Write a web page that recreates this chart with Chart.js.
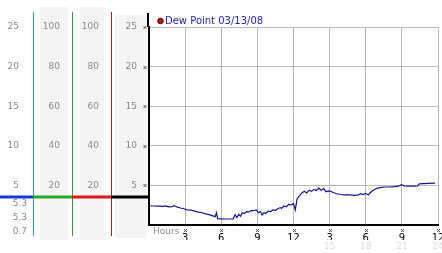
<!DOCTYPE html>
<html>
<head>
<meta charset="utf-8">
<script src="https://cdn.jsdelivr.net/npm/chart.js@4/dist/chart.umd.min.js"></script>
<style>
  html, body { margin: 0; padding: 0; background: #fff; }
  canvas { display: block; }
</style>
</head>
<body>
<canvas id="c" width="442" height="253"></canvas>
<script>
// Dew point for one day (hours since midnight, degrees)
const seriesLabel = 'Dew Point 03/13/08';
const hours = [
  0.0, 0.4, 0.8, 1.1, 1.4, 1.6, 1.9, 2.1, 2.3, 2.6, 2.9, 3.2, 3.5, 3.8, 4.1, 4.4, 4.7, 5.0, 5.3, 5.5,
  5.6, 5.7, 6.0, 6.4, 6.8, 7.0, 7.15, 7.3, 7.45, 7.6, 7.75, 7.9, 8.1, 8.3, 8.5, 8.7, 8.9, 9.1, 9.25, 9.4,
  9.55, 9.7, 9.9, 10.1, 10.3, 10.5, 10.7, 10.9, 11.0, 11.2, 11.4, 11.6, 11.8, 12.0, 12.15, 12.3, 12.5, 12.7, 12.9, 13.1,
  13.3, 13.5, 13.7, 13.9, 14.1, 14.3, 14.5, 14.7, 14.9, 15.1, 15.3, 15.6, 15.9, 16.2, 16.6, 17.0, 17.4, 17.6, 17.8, 18.0,
  18.2, 18.4, 18.6, 18.8, 19.0, 19.3, 19.6, 20.0, 20.4, 20.7, 20.95, 21.2, 21.6, 22.0, 22.3, 22.45, 22.8, 23.2, 23.75
];
const dewPoint = [
  2.40, 2.40, 2.38, 2.36, 2.42, 2.30, 2.32, 2.45, 2.28, 2.15, 2.05, 1.92, 1.88, 1.75, 1.62, 1.55, 1.40, 1.30, 1.15, 1.05,
  1.55, 0.80, 0.78, 0.76, 0.76, 0.78, 1.30, 0.95, 1.35, 1.10, 1.55, 1.45, 1.70, 1.65, 1.85, 1.80, 1.90, 1.55, 1.70, 1.25,
  1.55, 1.45, 1.75, 1.70, 1.90, 1.85, 2.05, 2.20, 2.10, 2.40, 2.30, 2.60, 2.55, 2.70, 1.90, 3.30, 3.70, 4.05, 4.25, 4.05,
  4.40, 4.25, 4.50, 4.35, 4.65, 4.40, 4.60, 4.20, 4.30, 4.25, 4.10, 3.95, 3.85, 3.80, 3.80, 3.75, 3.80, 3.95, 3.85, 4.00,
  3.80, 4.10, 4.35, 4.55, 4.65, 4.75, 4.80, 4.80, 4.85, 4.90, 5.10, 4.95, 4.92, 4.92, 4.95, 5.20, 5.22, 5.25, 5.28
];
// side panel: current / current / low readings
const currentValues = ['5.3', '5.3', '0.7'];

const FONT = 'DejaVu Sans';
const GRID = '#b8b8b8';
const LABEL = '#8a8a8a';

function fixSize(prop, size) {
  return (scale) => {
    scale[prop] = size;
    scale.paddingLeft = 0;
    scale.paddingRight = 0;
    scale.paddingTop = 0;
    scale.paddingBottom = 0;
  };
}

function sideAxis(weight, max, step, width, pad) {
  return {
    position: 'left',
    weight,
    min: 0,
    max,
    grid: { display: false, drawTicks: false },
    border: { display: false },
    ticks: {
      stepSize: step,
      padding: pad,
      color: LABEL,
      font: { family: FONT, size: 9 },
      callback: (v) => v === 0 ? '' : v,
    },
    afterFit: fixSize('width', width),
  };
}

const decor = {
  id: 'decor',
  beforeDraw(chart) {
    const { ctx, scales: s } = chart;
    ctx.save();
    ctx.fillStyle = '#f4f4f4';
    [['y2', 7, 4, 7, 240], ['y3', 8, 6, 7, 240], ['y', 4, 2, 15, 238]].forEach(([id, l, r, t, b]) => {
      const sc = s[id];
      ctx.fillRect(sc.left + l, t, sc.right - r - sc.left - l, b - t);
    });
    ctx.restore();
  },
  afterDraw(chart) {
    const { ctx, chartArea: area, scales: s } = chart;
    ctx.save();

    // coloured column dividers
    [['y1', '#3399cc'], ['y2', '#33a033'], ['y3', '#b02020']].forEach(([id, col]) => {
      const x = Math.round(s[id].right) + 0.5;
      ctx.strokeStyle = col;
      ctx.lineWidth = 1;
      ctx.beginPath();
      ctx.moveTo(x, 12);
      ctx.lineTo(x, 236);
      ctx.stroke();
    });
    // axis line continues above the plot
    ctx.strokeStyle = '#000';
    ctx.lineWidth = 2;
    ctx.beginPath();
    ctx.moveTo(area.left - 1, 13);
    ctx.lineTo(area.left - 1, area.top);
    ctx.stroke();

    // current-value bar across the side columns
    const barY = area.bottom - 28;
    ctx.lineWidth = 3;
    [['y1', '#1838d8'], ['y2', '#22aa22'], ['y3', '#e01818'], ['y', '#000']].forEach(([id, col]) => {
      ctx.strokeStyle = col;
      ctx.beginPath();
      ctx.moveTo(s[id].left, barY);
      ctx.lineTo(s[id].right, barY);
      ctx.stroke();
    });

    ctx.font = `9px ${FONT}`;
    ctx.fillStyle = LABEL;
    ctx.textAlign = 'right';
    ctx.textBaseline = 'middle';
    currentValues.forEach((v, i) => ctx.fillText(v, s.y1.left + 27, barY + 7 + i * 14));

    // tiny tick crosses
    ctx.strokeStyle = '#555';
    ctx.lineWidth = 1;
    const cross = (cx, cy) => {
      ctx.beginPath();
      ctx.moveTo(cx - 1.5, cy - 1.5); ctx.lineTo(cx + 1.5, cy + 1.5);
      ctx.moveTo(cx + 1.5, cy - 1.5); ctx.lineTo(cx - 1.5, cy + 1.5);
      ctx.stroke();
    };
    s.y.ticks.forEach((t) => { if (t.value > 0) cross(area.left - 4, Math.round(s.y.getPixelForValue(t.value)) + 0.5); });
    s.x.ticks.forEach((t) => { if (t.value > 0) cross(Math.round(s.x.getPixelForValue(t.value)) + 0.5, area.bottom + 5.5); });

    ctx.textAlign = 'left';
    ctx.fillStyle = LABEL;
    ctx.fillText('Hours', area.left + 4, area.bottom + 7);

    // legend in the top-left of the plot
    ctx.fillStyle = '#b01010';
    ctx.strokeStyle = '#600';
    ctx.beginPath();
    ctx.arc(area.left + 11.5, 21, 2.8, 0, Math.PI * 2);
    ctx.fill();
    ctx.stroke();
    ctx.font = `10px ${FONT}`;
    ctx.fillStyle = '#2424b0';
    ctx.fillText(seriesLabel, area.left + 16, 21);
    ctx.restore();
  },
};

new Chart(document.getElementById('c'), {
  type: 'line',
  data: {
    datasets: [{
      label: seriesLabel,
      data: hours.map((h, i) => ({ x: h, y: dewPoint[i] })),
      borderColor: '#16168a',
      borderWidth: 1.2,
      pointRadius: 0,
      tension: 0,
    }],
  },
  options: {
    responsive: false,
    animation: false,
    devicePixelRatio: 1,
    layout: { padding: { top: 27, right: 4, left: 0, bottom: 0 } },
    plugins: { legend: { display: false }, tooltip: { enabled: false } },
    scales: {
      x: {
        type: 'linear',
        position: 'bottom',
        weight: 0,
        min: 0,
        max: 24,
        grid: { color: GRID, drawTicks: false },
        border: { color: '#000', width: 2 },
        ticks: {
          stepSize: 3,
          padding: 7,
          autoSkip: false,
          maxRotation: 0,
          color: '#000',
          font: { family: FONT, size: 10 },
          callback: (v) => v === 0 ? '' : (v % 12 === 0 ? 12 : v % 12),
        },
        afterFit: fixSize('height', 15),
      },
      x2: {
        type: 'linear',
        position: 'bottom',
        weight: 1,
        min: 0,
        max: 24,
        grid: { display: false, drawTicks: false },
        border: { display: false },
        ticks: {
          stepSize: 3,
          padding: 1,
          autoSkip: false,
          maxRotation: 0,
          color: '#dcdcdc',
          font: { family: FONT, size: 9 },
          callback: (v) => v > 12 ? v : '',
        },
        afterFit: fixSize('height', 13),
      },
      y: {
        position: 'left',
        weight: 0,
        min: 0,
        max: 25,
        grid: { color: GRID, drawTicks: false },
        border: { color: '#000', width: 2 },
        ticks: {
          stepSize: 5,
          padding: 12,
          color: LABEL,
          font: { family: FONT, size: 9 },
          callback: (v) => v === 0 ? '' : v,
        },
        afterFit: fixSize('width', 38),
      },
      y3: sideAxis(1, 100, 20, 39, 12),
      y2: sideAxis(2, 100, 20, 39, 12),
      y1: sideAxis(3, 25, 5, 33, 14),
    },
  },
  plugins: [decor],
});
</script>
</body>
</html>
